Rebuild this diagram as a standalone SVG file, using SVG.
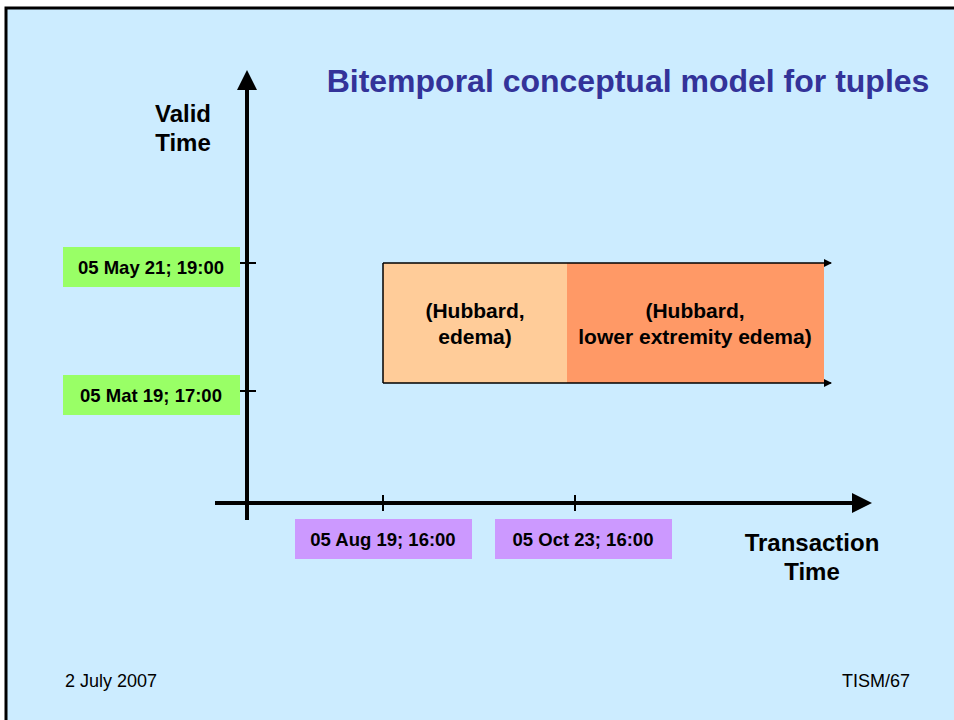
<svg xmlns="http://www.w3.org/2000/svg" width="954" height="720" viewBox="0 0 954 720">
<style>
  text { font-family: "Liberation Sans", Arial, sans-serif; }
  .lbl { font-size: 18.5px; font-weight: bold; fill: #000; text-anchor: middle; }
  .big { font-size: 21px; font-weight: bold; fill: #000; text-anchor: middle; }
  .axt { font-size: 24px; font-weight: bold; fill: #000; text-anchor: middle; }
  .foot { font-size: 18px; fill: #000; }
  .ax { stroke: #000; stroke-width: 4; fill: none; }
  .tick { stroke: #000; stroke-width: 2; }
  .edge { stroke: #000; stroke-width: 1.5; fill: none; }
</style>
<defs>
  <marker id="bigArrow" markerWidth="5" markerHeight="5" refX="4" refY="2.5" orient="auto" markerUnits="strokeWidth">
    <path d="M0,0 L5,2.5 L0,5 z" fill="#000"/>
  </marker>
  <marker id="smallArrow" markerWidth="8" markerHeight="8" refX="7" refY="4" orient="auto" markerUnits="userSpaceOnUse">
    <path d="M0,0 L8,4 L0,8 z" fill="#000"/>
  </marker>
</defs>
<rect x="0" y="0" width="954" height="720" fill="#ffffff"/>
<rect x="6" y="8" width="960" height="720" fill="#CCECFF" stroke="#000" stroke-width="3"/>

<text x="628" y="92" font-size="32" font-weight="bold" fill="#333399" text-anchor="middle" font-family="Liberation Sans, Arial, sans-serif">Bitemporal conceptual model for tuples</text>

<g id="tuple1">
  <rect x="383" y="263" width="184" height="120" fill="#FFCC99"/>
  <text class="big" x="475" y="318">(Hubbard,</text>
  <text class="big" x="475" y="344">edema)</text>
</g>
<g id="tuple2">
  <rect x="567" y="263" width="257" height="120" fill="#FF9966"/>
  <text class="big" x="695" y="318">(Hubbard,</text>
  <text class="big" x="695" y="344">lower extremity edema)</text>
</g>

<g id="connectors">
  <line class="edge" x1="383" y1="263" x2="383" y2="383"/>
  <line class="edge" x1="383" y1="263" x2="831" y2="263" marker-end="url(#smallArrow)"/>
  <line class="edge" x1="383" y1="383" x2="831" y2="383" marker-end="url(#smallArrow)"/>
  <line class="ax" x1="247" y1="520" x2="247" y2="74" marker-end="url(#bigArrow)"/>
  <line class="ax" x1="215" y1="503" x2="868" y2="503" marker-end="url(#bigArrow)"/>
  <line class="tick" x1="240" y1="263" x2="256" y2="263"/>
  <line class="tick" x1="240" y1="391" x2="256" y2="391"/>
  <line class="tick" x1="383" y1="495" x2="383" y2="511"/>
  <line class="tick" x1="575" y1="495" x2="575" y2="511"/>
</g>

<g id="validAxisLabel">
  <text class="axt" x="183" y="122">Valid</text>
  <text class="axt" x="183" y="151">Time</text>
</g>
<g id="transAxisLabel">
  <text class="axt" x="812" y="551">Transaction</text>
  <text class="axt" x="812" y="580">Time</text>
</g>

<g id="vt1">
  <rect x="63" y="247" width="177" height="40" fill="#99FF66"/>
  <text class="lbl" x="151" y="274">05 May 21; 19:00</text>
</g>
<g id="vt2">
  <rect x="63" y="375" width="177" height="40" fill="#99FF66"/>
  <text class="lbl" x="151" y="402">05 Mat 19; 17:00</text>
</g>
<g id="tt1">
  <rect x="295" y="519" width="177" height="40" fill="#CC99FF"/>
  <text class="lbl" x="383" y="546">05 Aug 19; 16:00</text>
</g>
<g id="tt2">
  <rect x="495" y="519" width="177" height="40" fill="#CC99FF"/>
  <text class="lbl" x="583" y="546">05 Oct 23; 16:00</text>
</g>

<text class="foot" x="65" y="687">2 July 2007</text>
<text class="foot" x="910" y="687" text-anchor="end">TISM/67</text>
</svg>
